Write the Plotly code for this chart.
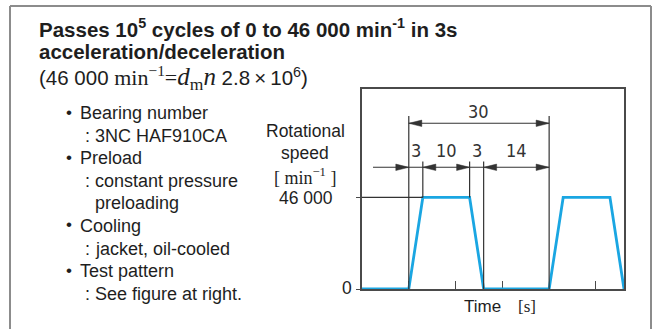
import numpy as np
import plotly.graph_objects as go

# ---- test pattern (durations in seconds) ----
phase_names = ["idle_start", "accel", "hold", "decel", "idle", "accel", "hold", "decel"]
phase_durations = [10, 3, 10, 3, 14, 3, 10, 3]
phase_end_speed = [0, 46000, 46000, 0, 0, 46000, 46000, 0]   # min^-1 at end of each phase
max_speed = 46000

# dimension annotations above the pattern
cycle_length = 30
segment_labels = ["3", "10", "3", "14"]

# text block on the left
title_lines = [
    "<b>Passes 10<sup>5</sup> cycles of 0 to 46 000 min<sup>-1</sup> in 3s</b>",
    "<b>acceleration/deceleration</b>",
]
bullet_items = [
    ("Bearing number", ["3NC HAF910CA"]),
    ("Preload", ["constant pressure", "preloading"]),
    ("Cooling", ["jacket, oil-cooled"]),
    ("Test pattern", ["See figure at right."]),
]

# ---------------------------------------------------------------
W, H = 653, 329
SANS = "Liberation Sans, Arial, sans-serif"
SERIF = "Liberation Serif, Times New Roman, serif"
NARROW = "DejaVu Sans Condensed, Liberation Sans Narrow, DejaVu Sans, sans-serif"
INK = "#1e1e1e"
LINE = "#333333"
BLUE = "#1aa6e2"

times = np.concatenate([[0], np.cumsum(phase_durations)])
speeds = np.concatenate([[0], phase_end_speed])
t_max = times[-1]

# plot area in pixels
PX_L, PX_R, PX_T, PX_B = 362, 624, 89, 289
Y_MAX = 100500


def px(x):
    return x / W


def py(y):
    return 1 - y / H


def yval(ypix):
    """Speed value that sits at a given pixel row of the plot area."""
    return (PX_B - ypix) / (PX_B - PX_T) * Y_MAX


def tval(xpix):
    return (xpix - PX_L) / (PX_R - PX_L) * t_max


sec_px = (PX_R - PX_L) / t_max
spd_px = Y_MAX / (PX_B - PX_T)

fig = go.Figure()
fig.add_trace(go.Scatter(
    x=times, y=speeds, mode="lines",
    line=dict(color=BLUE, width=2.8),
    cliponaxis=False, hoverinfo="skip", showlegend=False,
))

shapes = []
annotations = []

# outer frame (open at the bottom)
for x0, y0, x1, y1 in [(10, 6, 10, H + 5), (10, 6, 651, 6), (651, 6, 651, H + 5)]:
    shapes.append(dict(type="line", xref="paper", yref="paper",
                       x0=px(x0), y0=py(y0), x1=px(x1), y1=py(y1),
                       line=dict(color="#8c8c8c", width=2)))

# key instants of the first cycle
t_start = times[1]           # accel begins
t_top = times[2]             # hold begins
t_hold_end = times[3]        # decel begins
t_stop = times[4]            # at rest
t_next = times[5]            # next cycle starts

# reference line at max speed
shapes.append(dict(type="line", xref="x", yref="y", x0=0, x1=t_top,
                   y0=max_speed, y1=max_speed, line=dict(color=LINE, width=1.2)))

# extension lines
row1_top = yval(116)
row2_top = yval(161.5)
for t, y_lo, y_hi in [
    (t_start, 0, row1_top), (t_next, 0, row1_top),
    (t_top, max_speed, row2_top), (t_hold_end, max_speed, row2_top),
    (t_stop, 0, row2_top),
]:
    shapes.append(dict(type="line", xref="x", yref="y", x0=t, x1=t, y0=y_lo, y1=y_hi,
                       line=dict(color=LINE, width=1.2)))

row1_y = yval(123.3)
row2_y = yval(167.3)
shapes.append(dict(type="line", xref="x", yref="y", x0=t_start, x1=t_next,
                   y0=row1_y, y1=row1_y, line=dict(color=LINE, width=1.1)))
shapes.append(dict(type="line", xref="x", yref="y", x0=tval(373), x1=t_next,
                   y0=row2_y, y1=row2_y, line=dict(color=LINE, width=1.1)))

HEAD_L = 13 / sec_px
HEAD_W = 3.2 * spd_px


def arrow_head(t_tip, y, direction):
    """Filled arrow head with its tip at t_tip; direction +1 points right."""
    tb = t_tip - direction * HEAD_L
    path = f"M {t_tip},{y} L {tb},{y + HEAD_W} L {tb},{y - HEAD_W} Z"
    return dict(type="path", xref="x", yref="y", path=path,
                fillcolor=LINE, line=dict(color=LINE, width=0.5))


shapes.append(arrow_head(t_start, row1_y, -1))
shapes.append(arrow_head(t_next, row1_y, +1))
for t, d in [(t_start, +1), (t_top, -1), (t_hold_end, +1), (t_stop, -1), (t_next, +1)]:
    shapes.append(arrow_head(t, row2_y, d))

# dimension labels
annotations.append(dict(x=(t_start + t_next) / 2, y=yval(111), xref="x", yref="y",
                        text=str(cycle_length), showarrow=False,
                        font=dict(family=NARROW, size=18, color=LINE)))
bounds = [t_start, t_top, t_hold_end, t_stop, t_next]
for lab, a, b in zip(segment_labels, bounds[:-1], bounds[1:]):
    annotations.append(dict(x=(a + b) / 2, y=yval(150), xref="x", yref="y",
                            text=lab, showarrow=False,
                            font=dict(family=NARROW, size=18, color=LINE)))


def text(x, y, s, size, family=SANS, anchor="left", color=INK):
    annotations.append(dict(x=px(x), y=py(y), xref="paper", yref="paper", text=s,
                            showarrow=False, xanchor=anchor, yanchor="middle",
                            font=dict(family=family, size=size, color=color)))


# heading
text(37, 28, title_lines[0], 20.5)
text(37, 51, title_lines[1], 20.5)
text(37, 78,
     f"(46 000 <span style='font-family:{SERIF};font-size:22px'>min<sup>\u22121</sup>"
     f"=<span style='font-size:25px'><i>d</i><sub>m</sub><i>n</i></span></span>"
     f" 2.8\u2009\u00d7\u200910<sup>6</sup>)", 20.5)

# bullet list
row = 113
for head, details in bullet_items:
    text(69, row - 1, "\u2022", 17, anchor="center")
    text(78, row, head, 18)
    row += 22.6
    for i, d in enumerate(details):
        if i == 0:
            text(83, row, ":", 18)
        text(93, row, d, 18)
        row += 22.6

# axis captions
text(305, 131, "Rotational", 17.5, anchor="center")
text(305, 153, "speed", 17.5, anchor="center")
text(305, 176, f"[ min<sup>\u22121</sup> ]", 18, family=SERIF, anchor="center")
text(306, 198, "46 000", 17.5, anchor="center")
text(347, 288, "0", 17.5, anchor="center")
text(482, 306, "Time", 17, anchor="center")
text(527, 306, "[s]", 17, family=SERIF, anchor="center")

fig.update_layout(
    width=W, height=H, margin=dict(l=0, r=0, t=0, b=0),
    paper_bgcolor="white", plot_bgcolor="white",
    shapes=shapes, annotations=annotations, showlegend=False,
    xaxis=dict(domain=[px(PX_L), px(PX_R)], range=[0, t_max],
               showgrid=False, zeroline=False, showline=True, mirror=True,
               linecolor="#4a4a4a", linewidth=1.5,
               ticks="inside", ticklen=8, tickwidth=1.2, tickcolor="#4a4a4a",
               tickvals=[10, 20, 30, 40, 50], showticklabels=False,
               layer="below traces", fixedrange=True),
    yaxis=dict(domain=[py(PX_B), py(PX_T)], range=[0, Y_MAX],
               showgrid=False, zeroline=False, showline=True, mirror=True,
               linecolor="#4a4a4a", linewidth=1.5,
               ticks="outside", ticklen=4, tickwidth=1.2, tickcolor="#4a4a4a",
               tickvals=[0, max_speed], showticklabels=False,
               layer="below traces", fixedrange=True),
)

fig.write_html("out.html")
